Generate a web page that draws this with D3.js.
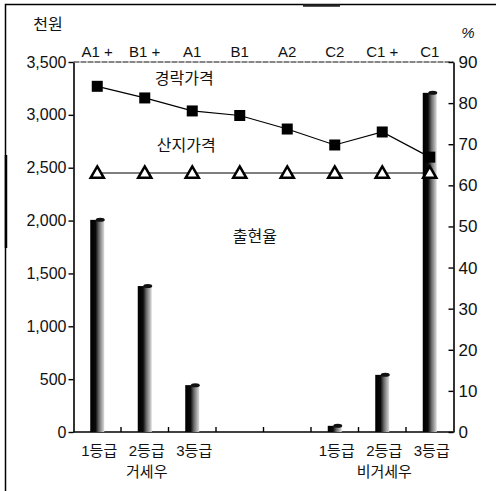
<!DOCTYPE html>
<html lang="ko">
<head>
<meta charset="UTF-8">
<title>경락가격 산지가격 출현율</title>
<script src="https://d3js.org/d3.v7.min.js"></script>
<style>
  body { margin: 0; background: #fff; }
  svg { display: block; }
  svg text { font-family: "Liberation Sans", "Noto Sans CJK KR", sans-serif; fill: #111; }
</style>
</head>
<body>
<div id="chart"></div>
<script>
// categories (top axis) and grade labels (bottom axis)
const grades = ["A1+", "B1+", "A1", "B1", "A2", "C2", "C1+", "C1"];
const gradeLabels = ["A1 +", "B1 +", "A1", "B1", "A2", "C2", "C1 +", "C1"];
const bottomLabels = ["1등급", "2등급", "3등급", "", "", "1등급", "2등급", "3등급"];
const groupLabels = [{ text: "거세우", at: "B1+" }, { text: "비거세우", at: "C1+" }];

// 경락가격 (천원), 산지가격 (천원), 출현율 (%)
const auctionPrice = [3270, 3160, 3037, 2994, 2866, 2715, 2838, 2600];
const farmPrice = [2450, 2450, 2450, 2450, 2450, 2450, 2450, 2450];
const shareRate = [51.6, 35.5, 11.4, 0, 0, 1.5, 13.9, 82.5];

const leftTicks = [0, 500, 1000, 1500, 2000, 2500, 3000, 3500];
const rightTicks = [0, 10, 20, 30, 40, 50, 60, 70, 80, 90];

const W = 496, H = 491;
const plot = { left: 73.5, right: 453.5, top: 62, bottom: 432 };

const svg = d3.select("#chart").append("svg")
  .attr("width", W).attr("height", H);

// gradient for the shaded columns
const defs = svg.append("defs");
const grad = defs.append("linearGradient").attr("id", "barGrad")
  .attr("x1", "0%").attr("x2", "100%").attr("y1", "0%").attr("y2", "0%");
grad.append("stop").attr("offset", "0%").attr("stop-color", "#000");
grad.append("stop").attr("offset", "38%").attr("stop-color", "#0a0a0a");
grad.append("stop").attr("offset", "62%").attr("stop-color", "#6a6a6a");
grad.append("stop").attr("offset", "100%").attr("stop-color", "#dcdcdc");

// outer frame (top + left edge of the scan)
svg.append("path")
  .attr("d", `M${W},4.5H5.5V${H}`)
  .attr("fill", "none").attr("stroke", "#000").attr("stroke-width", 1.5);
svg.append("line").attr("x1", 6).attr("x2", 6).attr("y1", 155).attr("y2", 248)
  .attr("stroke", "#000").attr("stroke-width", 2.5);
svg.append("line").attr("x1", 303).attr("x2", 340).attr("y1", 5.5).attr("y2", 5.5)
  .attr("stroke", "#222").attr("stroke-width", 2.5);

// scales
const x = d3.scaleBand().domain(grades).range([plot.left, plot.right]).padding(0);
const bw = x.bandwidth();
const cx = g => x(g) + bw / 2;
const yL = d3.scaleLinear().domain([0, 3500]).range([plot.bottom, plot.top]);
const yR = d3.scaleLinear().domain([0, 90]).range([plot.bottom, plot.top]);

// plot frame top
svg.append("line").attr("x1", plot.left).attr("x2", plot.right)
  .attr("y1", plot.top).attr("y2", plot.top)
  .attr("stroke", "#111").attr("stroke-width", 1.2).attr("stroke-dasharray", "6,1");

// left axis
const axL = svg.append("g").attr("transform", `translate(${plot.left},0)`)
  .call(d3.axisLeft(yL).tickValues(leftTicks).tickSizeInner(5).tickSizeOuter(0)
    .tickPadding(2).tickFormat(d3.format(",")));
axL.select(".domain").attr("stroke", "#000").attr("stroke-width", 1.6);
axL.selectAll(".tick line").attr("stroke", "#000").attr("stroke-width", 1.4);
axL.selectAll(".tick text").style("font-size", "16px").attr("fill", "#111");

// right axis
const axR = svg.append("g").attr("transform", `translate(${plot.right},0)`)
  .call(d3.axisRight(yR).tickValues(rightTicks).tickSizeInner(-5).tickSizeOuter(0)
    .tickPadding(5));
axR.select(".domain").attr("stroke", "#000").attr("stroke-width", 1.6);
axR.selectAll(".tick line").attr("stroke", "#000").attr("stroke-width", 1.4);
axR.selectAll(".tick text").style("font-size", "17px").attr("fill", "#111");

// bottom axis line + inward ticks between categories
svg.append("line").attr("x1", plot.left).attr("x2", plot.right)
  .attr("y1", plot.bottom).attr("y2", plot.bottom)
  .attr("stroke", "#000").attr("stroke-width", 1.6);
svg.selectAll(".btick").data(grades.slice(1)).enter().append("line")
  .attr("x1", d => x(d)).attr("x2", d => x(d))
  .attr("y1", plot.bottom).attr("y2", plot.bottom - 5)
  .attr("stroke", "#000").attr("stroke-width", 1.4);

// columns (출현율)
const barW = 14;
const barData = grades.map((g, i) => ({ g, v: shareRate[i] })).filter(d => d.v > 0);
svg.selectAll(".bar").data(barData).enter().append("rect")
  .attr("x", d => cx(d.g) - barW / 2)
  .attr("y", d => yR(d.v))
  .attr("width", barW)
  .attr("height", d => plot.bottom - yR(d.v))
  .attr("fill", "url(#barGrad)");
svg.selectAll(".cap").data(barData).enter().append("ellipse")
  .attr("cx", d => cx(d.g) + 3)
  .attr("cy", d => yR(d.v))
  .attr("rx", 4.5).attr("ry", 2)
  .attr("fill", "#111");

// 산지가격 line with open triangles
const line = d3.line().x(d => cx(d.g)).y(d => yL(d.v));
const farm = grades.map((g, i) => ({ g, v: farmPrice[i] }));
svg.append("path").datum(farm).attr("d", line)
  .attr("fill", "none").attr("stroke", "#000").attr("stroke-width", 1.2);
svg.selectAll(".tri").data(farm).enter().append("path")
  .attr("d", d3.symbol(d3.symbolTriangle, 75))
  .attr("transform", d => `translate(${cx(d.g)},${yL(d.v) + 1})`)
  .attr("fill", "#fff").attr("stroke", "#000").attr("stroke-width", 2.5)
  .attr("stroke-linejoin", "miter");

// 경락가격 line with filled squares
const auction = grades.map((g, i) => ({ g, v: auctionPrice[i] }));
svg.append("path").datum(auction).attr("d", line)
  .attr("fill", "none").attr("stroke", "#000").attr("stroke-width", 1.2);
const sq = 11;
svg.selectAll(".sq").data(auction).enter().append("rect")
  .attr("x", d => cx(d.g) - sq / 2).attr("y", d => yL(d.v) - sq / 2)
  .attr("width", sq).attr("height", sq).attr("fill", "#000");

// top category labels
svg.selectAll(".toplab").data(grades).enter().append("text")
  .attr("x", d => cx(d)).attr("y", 57)
  .attr("text-anchor", "middle").style("font-size", "15px")
  .text((d, i) => gradeLabels[i]);

// bottom labels
svg.selectAll(".botlab").data(grades).enter().append("text")
  .attr("x", d => cx(d) + 2).attr("y", 456)
  .attr("text-anchor", "middle").style("font-size", "15px")
  .text((d, i) => bottomLabels[i]);
svg.selectAll(".grplab").data(groupLabels).enter().append("text")
  .attr("x", d => cx(d.at) + 2).attr("y", 477)
  .attr("text-anchor", "middle").style("font-size", "15px")
  .text(d => d.text);

// unit labels
svg.append("text").attr("x", 48).attr("y", 30).attr("text-anchor", "middle")
  .style("font-size", "16px").text("천원");
svg.append("text").attr("x", 468).attr("y", 38).attr("text-anchor", "middle")
  .style("font-size", "15px").style("font-style", "italic").text("%");

// series labels
svg.append("text").attr("x", cx("B1+") + 10).attr("y", yL(3330) + 4)
  .style("font-size", "16px").text("경락가격");
svg.append("text").attr("x", cx("B1+") + 12).attr("y", yL(2715) + 6)
  .style("font-size", "16px").text("산지가격");
svg.append("text").attr("x", cx("B1") - 7).attr("y", yR(46.3))
  .style("font-size", "16px").text("출현율");
</script>
</body>
</html>
